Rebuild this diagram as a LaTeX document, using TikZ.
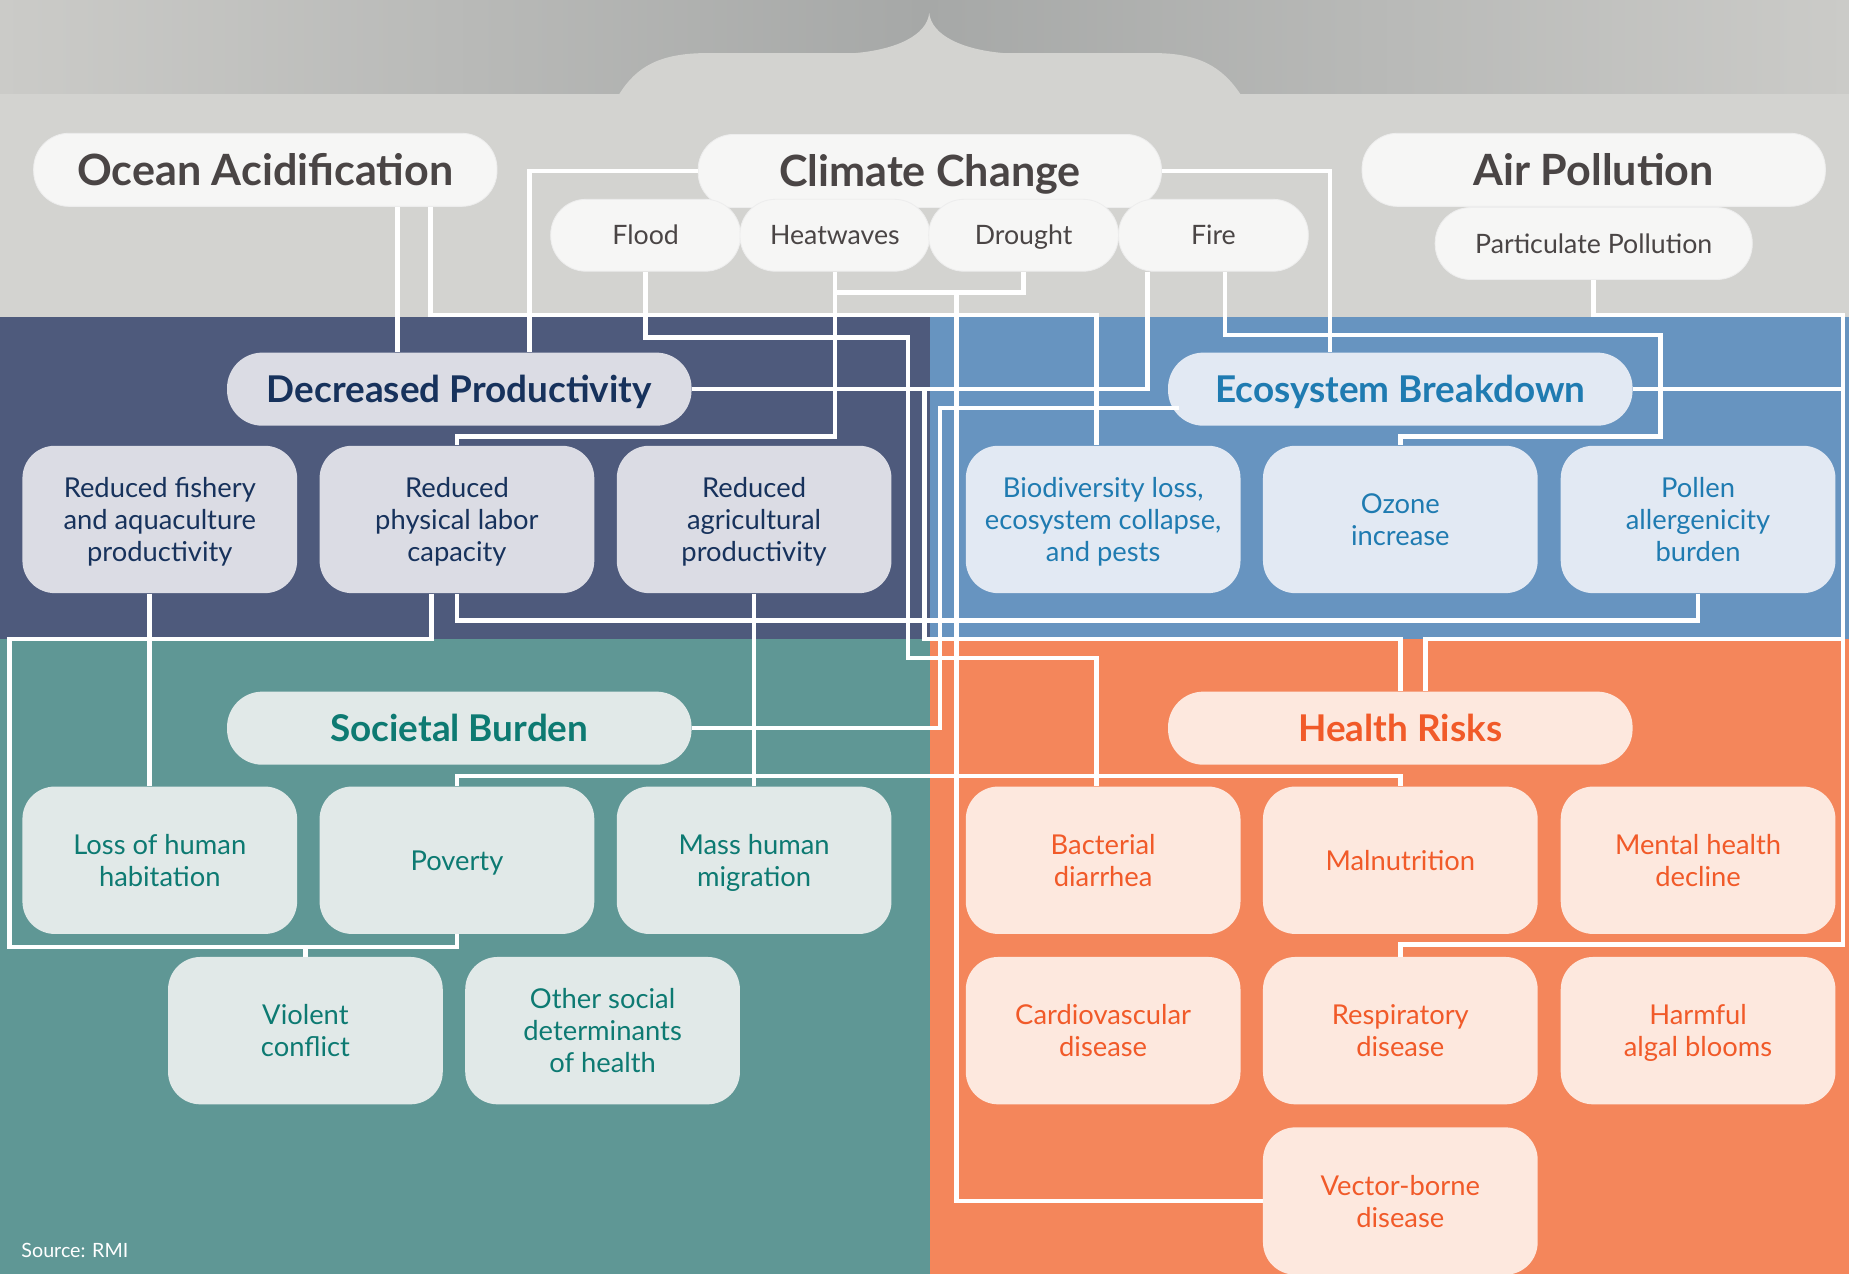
\documentclass[tikz,border=0pt]{standalone}
\usepackage{fontspec}
\setmainfont{Lato}

\definecolor{bandgray}{HTML}{D3D3D0}
\definecolor{bandlight}{HTML}{CBCBC8}
\definecolor{banddark}{HTML}{A6A8A7}
\definecolor{pillgray}{HTML}{F6F6F5}
\definecolor{titlegray}{HTML}{4A4545}
\definecolor{navy}{HTML}{4E5A7C}
\definecolor{prodfill}{HTML}{DBDCE4}
\definecolor{prodtext}{HTML}{17325C}
\definecolor{ecoblue}{HTML}{6794C0}
\definecolor{ecofill}{HTML}{E2E9F3}
\definecolor{ecotext}{HTML}{1F7BB1}
\definecolor{socteal}{HTML}{5F9795}
\definecolor{socfill}{HTML}{E1E9E8}
\definecolor{soctext}{HTML}{0D7A72}
\definecolor{healthorange}{HTML}{F4865B}
\definecolor{healthfill}{HTML}{FDE8DE}
\definecolor{healthtext}{HTML}{F15A29}

\tikzset{
  link/.style={draw=white, line width=2.2pt},
  toppill/.style={fill=pillgray, draw=black!7, rounded corners=0.6cm, minimum width=7.86cm,
    minimum height=1.24cm, inner sep=0pt, text=titlegray, text height=15pt, text depth=-1pt,
    font=\fontsize{20.8}{24}\selectfont\bfseries},
  hazardpill/.style={fill=pillgray, draw=black!7, rounded corners=0.6cm, minimum width=3.22cm,
    minimum height=1.22cm, inner sep=0pt, text=titlegray, text height=9.3pt, text depth=-1pt,
    font=\fontsize{12.9}{15}\selectfont},
  grouppill/.style={rounded corners=0.6cm, minimum width=7.88cm, minimum height=1.24cm,
    inner sep=0pt, text height=12.8pt, text depth=0pt, font=\fontsize{17.8}{20}\selectfont\bfseries},
  effectbox/.style={rounded corners=0.55cm, minimum width=4.66cm, minimum height=2.5cm,
    inner sep=0pt, align=center, text depth=-3.4pt, font=\fontsize{13.2}{15.4}\selectfont},
  prodbox/.style={fill=prodfill, text=prodtext},
  ecobox/.style={fill=ecofill, text=ecotext},
  socbox/.style={fill=socfill, text=soctext},
  healthbox/.style={fill=healthfill, text=healthtext},
}

\begin{document}
\begin{tikzpicture}[x=0.02cm, y=-0.02cm]
  \useasboundingbox (0,0) rectangle (1568,1080);
  % background bands
  \fill[bandgray] (0,0) rectangle (1568,269);
  \shade[left color=bandlight, right color=bandlight, middle color=banddark] (0,0) rectangle (1568,79);
  \fill[bandgray] (525,80) .. controls (540,56) and (560,45) .. (600,45) -- (725,45)
    .. controls (760,42) and (786,30) .. (788,11) .. controls (790,30) and (816,42) .. (851,45)
    -- (978,45) .. controls (1016,45) and (1036,56) .. (1052,80) -- cycle;
  \fill[navy] (0,269) rectangle (789,542);
  \fill[ecoblue] (789,269) rectangle (1568,542);
  \fill[socteal] (0,542) rectangle (789,1080);
  \fill[healthorange] (789,542) rectangle (1568,1080);

  % top: causes
  \node[toppill] (oa) at (225,144) {Ocean Acidification};
  \node[toppill] (cc) at (788.5,145) {Climate Change};
  \node[toppill] (ap) at (1351.5,144) {Air Pollution};
  \node[hazardpill] (flood) at (547.5,199.5) {Flood};
  \node[hazardpill] (heat) at (708,199.5) {Heatwaves};
  \node[hazardpill] (drought) at (868,199.5) {Drought};
  \node[hazardpill] (fire) at (1029,199.5) {Fire};
  \node[hazardpill, minimum width=5.38cm] (pp) at (1351.5,206.5) {Particulate Pollution};

  % bus columns and rows of the connectors
  \coordinate (oaDown) at (337,0);
  \coordinate (oaBio) at (365,0);
  \coordinate (bioIn) at (930,0);
  \coordinate (ccLeft) at (449,0);
  \coordinate (ccRight) at (1128,0);
  \coordinate (floodRun) at (770,0);
  \coordinate (dryRun) at (811,0);
  \coordinate (fireA) at (973,0);
  \coordinate (fireB) at (1039,0);
  \coordinate (fireRight) at (1408,0);
  \coordinate (prodRun) at (784,0);
  \coordinate (ecoRun) at (797,0);
  \coordinate (laborOut) at (366,0);
  \coordinate (leftEdge) at (8,0);
  \coordinate (fishRun) at (127,0);
  \coordinate (rightEdge) at (1563,0);
  \coordinate (healthIn) at (1209,0);
  \coordinate (rowTop) at (0,267);
  \coordinate (rowDry) at (0,248);
  \coordinate (rowFlood) at (0,286);
  \coordinate (rowFire) at (0,284);
  \coordinate (rowHeat) at (0,370);
  \coordinate (rowPollen) at (0,526);
  \coordinate (rowLabor) at (0,542);
  \coordinate (rowBact) at (0,558);
  \coordinate (rowPoor) at (0,658);
  \coordinate (rowResp) at (0,801);
  \coordinate (rowLoop) at (0,803);

  % middle and bottom: effects
  \node[grouppill, prodbox] (dp) at (389.5,330) {Decreased Productivity};
  \node[grouppill, ecobox] (eb) at (1187.5,330) {Ecosystem Breakdown};
  \node[grouppill, socbox] (sb) at (389.5,617.5) {Societal Burden};
  \node[grouppill, healthbox] (hr) at (1187.5,617.5) {Health Risks};

  \node[effectbox, prodbox] (rf) at (135.5,440.5) {Reduced fishery\\and aquaculture\\productivity};
  \node[effectbox, prodbox] (rpl) at (387.5,440.5) {Reduced\\physical labor\\capacity};
  \node[effectbox, prodbox] (rap) at (639.5,440.5) {Reduced\\agricultural\\productivity};
  \node[effectbox, ecobox] (bio) at (935.5,440.5) {Biodiversity loss,\\ecosystem collapse,\\and pests};
  \node[effectbox, ecobox] (ozone) at (1187.5,440.5) {Ozone\\increase};
  \node[effectbox, ecobox] (pollen) at (1440,440.5) {Pollen\\allergenicity\\burden};

  \node[effectbox, socbox] (lhh) at (135.5,729.5) {Loss of human\\habitation};
  \node[effectbox, socbox] (poverty) at (387.5,729.5) {Poverty};
  \node[effectbox, socbox] (mhm) at (639.5,729.5) {Mass human\\migration};
  \node[effectbox, socbox] (violent) at (259,874) {Violent\\conflict};
  \node[effectbox, socbox] (other) at (511,874) {Other social\\determinants\\of health};

  \node[effectbox, healthbox] (bact) at (935.5,729.5) {Bacterial\\diarrhea};
  \node[effectbox, healthbox] (maln) at (1187.5,729.5) {Malnutrition};
  \node[effectbox, healthbox] (mental) at (1440,729.5) {Mental health\\decline};
  \node[effectbox, healthbox] (cardio) at (935.5,874) {Cardiovascular\\disease};
  \node[effectbox, healthbox] (resp) at (1187.5,874) {Respiratory\\disease};
  \node[effectbox, healthbox] (algal) at (1440,874) {Harmful\\algal blooms};
  \node[effectbox, healthbox] (vector) at (1187.5,1018.5) {Vector-borne\\disease};

  % connectors
  \draw[link] (oa.south -| oaDown) -- (dp.north -| oaDown);
  \draw[link] (oa.south -| oaBio) |- (bioIn |- rowTop) -- (bio.north -| bioIn);
  \draw[link] (cc.west) -| (dp.north -| ccLeft);
  \draw[link] (cc.east) -| (eb.north -| ccRight);
  \draw[link] (flood.south) |- (floodRun |- rowFlood) |- (bioIn |- rowBact) -- (bact.north -| bioIn);
  \draw[link] (heat.south) |- (rpl.north |- rowHeat) -- (rpl.north);
  \draw[link] (heat.south) |- (dryRun |- rowDry) -| (drought.south);
  \draw[link] (dryRun |- rowDry) |- (vector.west);
  \draw[link] (fire.south -| fireA) |- (dp.east);
  \draw[link] (prodRun |- dp.east) |- (hr.north |- rowLabor) -- (hr.north);
  \draw[link] (fire.south -| fireB) |- (fireRight |- rowFire) |- (ozone.north |- rowHeat) -- (ozone.north);
  \draw[link] ([xshift=0.2cm, yshift=-0.32cm]eb.west) -| (ecoRun |- sb.east) -- (sb.east);
  \draw[link] (pollen.south) |- (rpl.south |- rowPollen) -- (rpl.south);
  \draw[link] (rpl.south -| laborOut) |- (leftEdge |- rowLabor) |- (poverty.south |- rowLoop) -- (poverty.south);
  \draw[link] (violent.north |- rowLoop) -- (violent.north);
  \draw[link] (rf.south -| fishRun) -- (lhh.north -| fishRun);
  \draw[link] (rap.south) -- (mhm.north);
  \draw[link] (poverty.north) |- (maln.north |- rowPoor) -- (maln.north);
  \draw[link] (pp.south) |- (rightEdge |- rowTop) |- (resp.north |- rowResp) -- (resp.north);
  \draw[link] (eb.east) -- (rightEdge |- eb.east);
  \draw[link] (rightEdge |- rowLabor) -| (hr.north -| healthIn);

  \node[anchor=west, text=white, font=\fontsize{9.5}{11}\selectfont] (src) at (12,1060) {Source: RMI};
\end{tikzpicture}
\end{document}
